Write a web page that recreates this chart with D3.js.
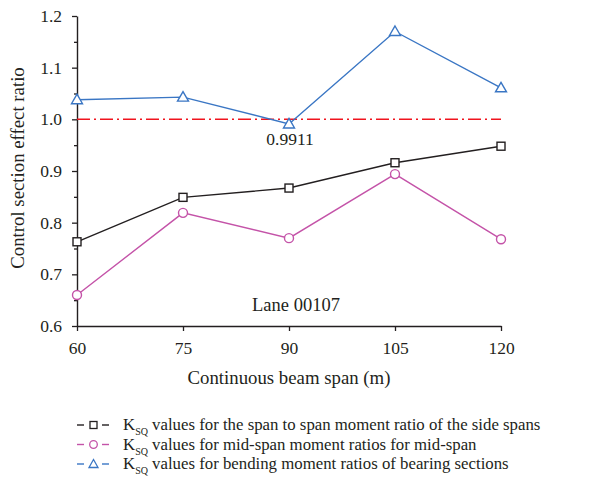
<!DOCTYPE html>
<html>
<head>
<meta charset="utf-8">
<script src="https://cdn.jsdelivr.net/npm/d3@7"></script>
<style>
  body { margin: 0; background: #fff; }
  svg text { font-family: "Liberation Serif", "DejaVu Serif", serif; fill: #231f20; }
</style>
</head>
<body>
<div id="chart"></div>
<script>
var spans = [60, 75, 90, 105, 120];
var sideSpanRatio = [0.763, 0.849, 0.867, 0.916, 0.948];
var midSpanRatio = [0.660, 0.819, 0.770, 0.894, 0.768];
var bearingRatio = [1.038, 1.043, 0.9911, 1.170, 1.061];
var yTicks = [0.6, 0.7, 0.8, 0.9, 1.0, 1.1, 1.2];
var yMinorTicks = [0.65, 0.75, 0.85, 0.95, 1.05, 1.15];
var legendLabels = [
  ' values for the span to span moment ratio of the side spans',
  ' values for mid-span moment ratios for mid-span',
  ' values for bending moment ratios of bearing sections'
];

var width = 591,
    height = 485,
    area = { x1: 77, y1: 16, x2: 501, y2: 326 };

var svg = d3.select('#chart').append('svg')
    .attr('width', width)
    .attr('height', height);

var x = d3.scaleLinear().domain([60, 120]).range([area.x1, area.x2]);
var y = d3.scaleLinear().domain([0.6, 1.2]).range([area.y2, area.y1]);

var series = [
  { values: sideSpanRatio, color: '#231f20', shape: 'square' },
  { values: midSpanRatio, color: '#c453a8', shape: 'circle' },
  { values: bearingRatio, color: '#3a76c4', shape: 'triangle' }
];

// axes
var xAxis = d3.axisBottom(x).tickValues(spans).tickSize(5).tickSizeOuter(0).tickPadding(11)
    .tickFormat(d3.format('d'));
var gx = svg.append('g')
    .attr('transform', 'translate(0,' + area.y2 + ')')
    .call(xAxis);

var yAxis = d3.axisLeft(y).tickValues(yTicks).tickSize(5).tickSizeOuter(0).tickPadding(10)
    .tickFormat(d3.format('.1f'));
var gy = svg.append('g')
    .attr('transform', 'translate(' + area.x1 + ',0)')
    .call(yAxis);

var yMinor = d3.axisLeft(y).tickValues(yMinorTicks).tickSize(3).tickSizeOuter(0).tickFormat('');
var gyMinor = svg.append('g')
    .attr('transform', 'translate(' + area.x1 + ',0)')
    .call(yMinor);
gyMinor.select('.domain').remove();

[gx, gy, gyMinor].forEach(function(g) {
  g.selectAll('.domain').attr('stroke', '#231f20').attr('stroke-width', 1.4);
  g.selectAll('.tick line').attr('stroke', '#231f20').attr('stroke-width', 1.3);
  g.selectAll('.tick text')
    .style('font-family', '"Liberation Serif", serif')
    .style('font-size', '17.5px')
    .attr('fill', '#231f20');
});

// reference line at 1.0
svg.append('line')
    .attr('x1', x(60)).attr('x2', x(120))
    .attr('y1', y(1.0)).attr('y2', y(1.0))
    .attr('stroke', '#f0141e')
    .attr('stroke-width', 1.5)
    .attr('stroke-dasharray', '13,4,2,4');

var line = d3.line()
    .x(function(d, i) { return x(spans[i]); })
    .y(function(d) { return y(d); });

function drawMarker(g, shape, color, cx, cy) {
  if (shape === 'square') {
    g.append('rect')
      .attr('x', cx - 4).attr('y', cy - 4)
      .attr('width', 8).attr('height', 8)
      .attr('fill', '#fff').attr('stroke', color).attr('stroke-width', 1.4);
  } else if (shape === 'circle') {
    g.append('circle')
      .attr('cx', cx).attr('cy', cy).attr('r', 4.5)
      .attr('fill', '#fff').attr('stroke', color).attr('stroke-width', 1.4);
  } else {
    g.append('path')
      .attr('d', 'M' + cx + ',' + (cy - 5.5) + 'L' + (cx + 5.5) + ',' + (cy + 4) + 'L' + (cx - 5.5) + ',' + (cy + 4) + 'Z')
      .attr('fill', '#fff').attr('stroke', color).attr('stroke-width', 1.4);
  }
}

series.forEach(function(s) {
  svg.append('path')
    .datum(s.values)
    .attr('d', line)
    .attr('fill', 'none')
    .attr('stroke', s.color)
    .attr('stroke-width', 1.4);
  var g = svg.append('g');
  s.values.forEach(function(v, i) {
    drawMarker(g, s.shape, s.color, x(spans[i]), y(v));
  });
});

// annotations
svg.append('text')
    .attr('x', x(90) + 1).attr('y', y(bearingRatio[2]) + 21)
    .attr('text-anchor', 'middle')
    .style('font-size', '17.5px')
    .text('0.9911');

svg.append('text')
    .attr('x', 296).attr('y', 311)
    .attr('text-anchor', 'middle')
    .style('font-size', '18.5px')
    .text('Lane 00107');

// axis titles
svg.append('text')
    .attr('x', 289).attr('y', 384)
    .attr('text-anchor', 'middle')
    .style('font-size', '18.8px')
    .text('Continuous beam span (m)');

svg.append('text')
    .attr('transform', 'translate(24,' + 168 + ') rotate(-90)')
    .attr('text-anchor', 'middle')
    .style('font-size', '18.8px')
    .text('Control section effect ratio');

// legend
var legend = svg.append('g');
series.forEach(function(s, i) {
  var ly = 425 + i * 19.5;
  legend.append('line').attr('x1', 77).attr('x2', 84).attr('y1', ly).attr('y2', ly)
    .attr('stroke', s.color).attr('stroke-width', 1.4);
  legend.append('line').attr('x1', 102).attr('x2', 109).attr('y1', ly).attr('y2', ly)
    .attr('stroke', s.color).attr('stroke-width', 1.4);
  var g = legend.append('g');
  if (s.shape === 'square') {
    g.append('rect').attr('x', 90).attr('y', ly - 3.5).attr('width', 7).attr('height', 7)
      .attr('fill', '#fff').attr('stroke', s.color).attr('stroke-width', 1.3);
  } else if (s.shape === 'circle') {
    g.append('circle').attr('cx', 93.5).attr('cy', ly).attr('r', 3.8)
      .attr('fill', '#fff').attr('stroke', s.color).attr('stroke-width', 1.3);
  } else {
    g.append('path')
      .attr('d', 'M93.5,' + (ly - 4.5) + 'L98,' + (ly + 3.5) + 'L89,' + (ly + 3.5) + 'Z')
      .attr('fill', '#fff').attr('stroke', s.color).attr('stroke-width', 1.3);
  }
  var t = legend.append('text')
    .attr('x', 123).attr('y', ly + 5)
    .style('font-size', '16.8px');
  t.append('tspan').text('K');
  t.append('tspan').attr('dy', 5).style('font-size', '10px').text('SQ');
  t.append('tspan').attr('dy', -5).text(legendLabels[i]);
});
</script>
</body>
</html>
